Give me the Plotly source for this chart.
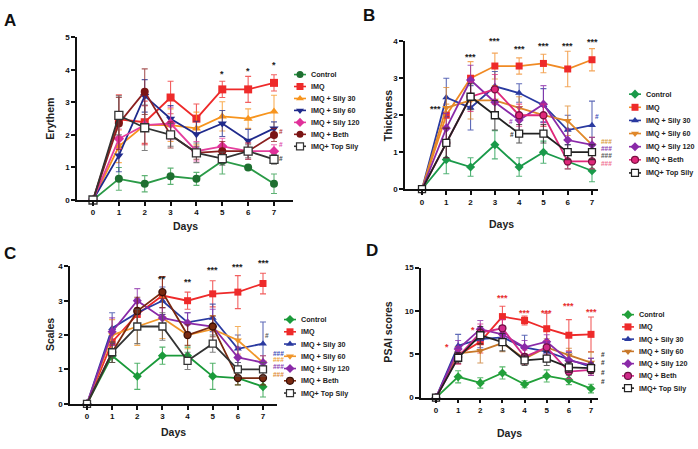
import plotly.graph_objects as go

W, H = 698, 449
FONT = "Liberation Sans, Arial, sans-serif"

days = [0, 1, 2, 3, 4, 5, 6, 7]
names = ["Control", "IMQ", "IMQ + Sily 30", "IMQ + Sily 60", "IMQ + Sily 120", "IMQ + Beth", "IMQ+ Top Sily"]

# ---------------- Panel A : Erythem ----------------
A_control = [0, 0.65, 0.5, 0.73, 0.65, 1.2, 1.0, 0.5]
A_control_err = [0, 0.35, 0.25, 0.25, 0.2, 0.4, 0.05, 0.3]
A_imq = [0, 2.48, 2.39, 3.15, 2.5, 3.4, 3.4, 3.6]
A_imq_err = [0, 0.75, 0.65, 0.5, 0.45, 0.25, 0.4, 0.25]
A_s30 = [0, 1.65, 2.3, 2.3, 2.2, 2.57, 2.5, 2.72]
A_s30_err = [0, 0.5, 0.6, 0.5, 0.5, 0.45, 0.3, 0.5]
A_s60 = [0, 1.37, 3.2, 2.5, 2.02, 2.35, 1.82, 2.2]
A_s60_err = [0, 0.5, 0.5, 0.4, 0.4, 0.4, 0.35, 0.2]
A_s120 = [0, 1.88, 2.3, 2.35, 1.5, 1.65, 1.5, 1.5]
A_s120_err = [0, 0.3, 0.6, 0.5, 0.3, 0.25, 0.25, 0.2]
A_beth = [0, 2.35, 3.33, 2.0, 1.45, 1.5, 1.5, 2.0]
A_beth_err = [0, 0.8, 0.7, 0.4, 0.2, 0.3, 0.25, 0.2]
A_top = [0, 2.6, 2.22, 2.0, 1.45, 1.27, 1.5, 1.25]
A_top_err = [0, 0.6, 0.7, 0.35, 0.3, 0.2, 0.2, 0.15]
A_ticks = [0, 1, 2, 3, 4, 5]

# ---------------- Panel B : Thickness ----------------
B_control = [0, 0.8, 0.6, 1.2, 0.6, 1.0, 0.75, 0.5]
B_control_err = [0, 0.38, 0.25, 0.38, 0.25, 0.3, 0.2, 0.3]
B_imq = [0, 2.0, 3.0, 3.33, 3.33, 3.4, 3.25, 3.5]
B_imq_err = [0, 0.3, 0.45, 0.35, 0.22, 0.25, 0.48, 0.3]
B_s30 = [0, 2.48, 2.2, 2.78, 2.6, 2.27, 1.6, 1.73]
B_s30_err = [0, 0.52, 0.6, 0.4, 0.25, 0.45, 0.4, 0.65]
B_s60 = [0, 2.2, 2.4, 2.4, 2.2, 2.0, 1.85, 1.2]
B_s60_err = [0, 0.55, 0.5, 0.4, 0.3, 0.3, 0.4, 0.2]
B_s120 = [0, 1.65, 2.95, 2.35, 1.87, 2.3, 1.33, 1.2]
B_s120_err = [0, 0.4, 0.4, 0.4, 0.35, 0.5, 0.3, 0.2]
B_beth = [0, 1.25, 2.5, 2.7, 2.0, 2.0, 0.75, 0.75]
B_beth_err = [0, 0.4, 0.4, 0.4, 0.3, 0.3, 0.2, 0.2]
B_top = [0, 1.25, 2.5, 2.0, 1.5, 1.5, 1.0, 1.0]
B_top_err = [0, 0.4, 0.35, 0.4, 0.25, 0.25, 0.2, 0.2]
B_ticks = [0, 1, 2, 3, 4]

# ---------------- Panel C : Scales ----------------
C_control = [0, 1.4, 0.8, 1.4, 1.4, 0.8, 0.75, 0.5]
C_control_err = [0, 0.2, 0.38, 0.25, 0.25, 0.38, 0.2, 0.3]
C_imq = [0, 1.8, 2.6, 3.15, 3.0, 3.2, 3.25, 3.5]
C_imq_err = [0, 0.3, 0.4, 0.55, 0.25, 0.38, 0.48, 0.3]
C_s30 = [0, 2.2, 2.65, 3.0, 2.37, 2.5, 1.6, 1.75]
C_s30_err = [0, 0.45, 0.4, 0.4, 0.28, 0.4, 0.4, 0.63]
C_s60 = [0, 2.0, 2.25, 2.5, 2.0, 2.17, 1.85, 1.2]
C_s60_err = [0, 0.45, 0.55, 0.6, 0.4, 0.4, 0.4, 0.2]
C_s120 = [0, 2.1, 3.0, 2.5, 2.35, 2.25, 1.35, 1.2]
C_s120_err = [0, 0.4, 0.35, 0.3, 0.3, 0.5, 0.3, 0.2]
C_beth = [0, 1.5, 2.7, 3.25, 2.0, 2.25, 0.75, 0.75]
C_beth_err = [0, 0.3, 0.4, 0.45, 0.3, 0.3, 0.2, 0.2]
C_top = [0, 1.5, 2.25, 2.25, 1.25, 1.75, 1.0, 1.0]
C_top_err = [0, 0.3, 0.5, 0.4, 0.25, 0.25, 0.2, 0.2]
C_ticks = [0, 1, 2, 3, 4]

# ---------------- Panel D : PSAI scores ----------------
D_control = [0, 2.4, 1.7, 2.85, 1.55, 2.5, 2.05, 1.05]
D_control_err = [0, 0.7, 0.6, 0.7, 0.4, 0.7, 0.55, 0.5]
D_imq = [0, 4.9, 6.45, 9.35, 8.9, 7.95, 7.2, 7.3]
D_imq_err = [0, 1.0, 1.3, 1.2, 0.5, 1.8, 1.8, 2.0]
D_s30 = [0, 6.0, 6.75, 6.95, 5.8, 5.3, 4.4, 3.55]
D_s30_err = [0, 1.3, 1.0, 0.9, 1.4, 1.0, 0.8, 1.0]
D_s60 = [0, 5.1, 5.4, 6.3, 4.5, 5.8, 4.9, 4.05]
D_s60_err = [0, 0.8, 1.4, 1.0, 0.6, 1.0, 0.8, 1.2]
D_s120 = [0, 5.6, 7.9, 7.3, 5.8, 6.45, 4.3, 3.75]
D_s120_err = [0, 1.0, 1.0, 1.0, 0.8, 0.8, 1.0, 0.8]
D_beth = [0, 4.7, 7.5, 8.0, 4.7, 5.8, 3.0, 3.2]
D_beth_err = [0, 0.8, 1.0, 1.0, 0.8, 0.8, 0.8, 0.6]
D_top = [0, 4.6, 7.2, 6.4, 4.3, 4.5, 3.5, 3.4]
D_top_err = [0, 0.6, 1.0, 1.0, 0.6, 0.8, 0.6, 0.6]
D_ticks = [0, 5, 10, 15]

# significance labels: (day, value, text, colour)
A_sig = [(5, 3.88, "*", "#222"), (6, 3.95, "*", "#222"), (7, 4.15, "*", "#222"),
         (7.28, 2.12, "#", "#b8342a"), (7.28, 1.72, "#", "#e04aa8"), (7.28, 1.28, "#", "#444")]
B_sig = [(0.55, 2.17, "***", "#222"), (2, 3.57, "***", "#222"), (3, 4.0, "***", "#222"),
         (4, 3.78, "***", "#222"), (5, 3.88, "***", "#222"), (6, 3.88, "***", "#222"),
         (7, 3.98, "***", "#222"), (7.2, 1.97, "#", "#3a4ab8"),
         (7.6, 1.3, "###", "#d99a3a"), (7.6, 1.1, "###", "#8a3ab0"),
         (7.6, 0.9, "###", "#555"), (7.6, 0.7, "###", "#f07090"),
         (3.68, 1.84, "#", "#9a3ab0"), (3.72, 1.47, "#", "#333")]
C_sig = [(3, 3.62, "**", "#222"), (4, 3.55, "**", "#222"), (5, 3.9, "***", "#222"),
         (6, 3.97, "***", "#222"), (7, 4.1, "***", "#222"), (7.15, 2.0, "#", "#555"),
         (7.6, 1.45, "###", "#3a4ab8"), (7.6, 1.29, "###", "#f0a030"),
         (7.6, 1.08, "###", "#8a3ab0"), (7.6, 0.85, "###", "#e08a30")]
D_sig = [(0.48, 5.8, "*", "#e83030"), (1.65, 7.8, "*", "#e83030"),
         (3, 11.5, "***", "#e83030"), (4, 9.8, "***", "#e83030"), (5, 9.8, "***", "#e83030"),
         (6, 10.6, "***", "#e83030"), (7, 9.9, "***", "#e83030"),
         (7.55, 4.95, "#", "#333"), (7.55, 4.0, "#", "#333"), (7.55, 2.95, "#", "#333"),
         (7.55, 1.9, "#", "#333")]

# styles per panel: (line colour, marker colour, symbol, marker line colour)
A_style = [("#2a9a47", "#1e6f30", "circle", None), ("#ee2a2a", "#ee2a2a", "square", None),
           ("#f7941d", "#f7941d", "triangle-up", None), ("#1f2a8c", "#1f2a8c", "triangle-down", None),
           ("#e4409e", "#e0309a", "diamond", None), ("#8b2020", "#7a1414", "circle", None),
           ("#333333", "white", "square", "#333333")]
B_style = [("#1a9a4a", "#1a9a4a", "diamond", None), ("#f08a24", "#ee2a2a", "square", None),
           ("#2a3aa0", "#2a3aa0", "triangle-up", None), ("#e0882a", "#e0882a", "triangle-down", None),
           ("#8a2aa8", "#8a2aa8", "diamond", None), ("#e0287a", "#e0287a", "circle", "#7a1040"),
           ("#222222", "white", "square", "#222222")]
C_style = [("#1a9a3a", "#1a9a3a", "diamond", None), ("#ee2a2a", "#ee2a2a", "square", None),
           ("#2a3aa0", "#2a3aa0", "triangle-up", None), ("#f0962a", "#f0962a", "triangle-down", None),
           ("#8a2aa8", "#8a2aa8", "diamond", None), ("#7a2a10", "#7a2a10", "circle", "#3a1008"),
           ("#333333", "white", "square", "#333333")]
D_style = [("#22a03a", "#22a03a", "diamond", None), ("#ee2a2a", "#ee2a2a", "square", None),
           ("#2a3aa0", "#2a3aa0", "triangle-up", None), ("#c8782a", "#c8782a", "triangle-down", None),
           ("#8a2aa8", "#8a2aa8", "diamond", None), ("#d02a8a", "#d02a8a", "circle", "#6a1040"),
           ("#222222", "white", "square", "#222222")]

panels = [
    dict(key="A", ytitle="Erythem", ticks=A_ticks,
         series=[A_control, A_imq, A_s30, A_s60, A_s120, A_beth, A_top],
         errs=[A_control_err, A_imq_err, A_s30_err, A_s60_err, A_s120_err, A_beth_err, A_top_err],
         style=A_style, sig=A_sig, msize=8,
         xl=77, xr=293, d0=93, d7=274, yb=200, yt=34,
         leg=(300, 72, 12.2), letter=(10, 17), ytx=50, xty=227),
    dict(key="B", ytitle="Thickness", ticks=B_ticks,
         series=[B_control, B_imq, B_s30, B_s60, B_s120, B_beth, B_top],
         errs=[B_control_err, B_imq_err, B_s30_err, B_s60_err, B_s120_err, B_beth_err, B_top_err],
         style=B_style, sig=B_sig, msize=7,
         xl=405, xr=598, d0=422, d7=592, yb=189, yt=38,
         leg=(635, 92, 13.4), letter=(369, 12), ytx=388, xty=225),
    dict(key="C", ytitle="Scales", ticks=C_ticks,
         series=[C_control, C_imq, C_s30, C_s60, C_s120, C_beth, C_top],
         errs=[C_control_err, C_imq_err, C_s30_err, C_s60_err, C_s120_err, C_beth_err, C_top_err],
         style=C_style, sig=C_sig, msize=7,
         xl=70, xr=277, d0=87, d7=263, yb=408, yt=267.7,
         leg=(290, 322, 12.5), letter=(10, 255), ytx=50, xty=437),
    dict(key="D", ytitle="PSAI scores", ticks=D_ticks,
         series=[D_control, D_imq, D_s30, D_s60, D_s120, D_beth, D_top],
         errs=[D_control_err, D_imq_err, D_s30_err, D_s60_err, D_s120_err, D_beth_err, D_top_err],
         style=D_style, sig=D_sig, msize=7,
         xl=421, xr=598, d0=436, d7=591, yb=401.7, yt=269,
         leg=(628, 317, 12.5), letter=(372, 252), ytx=388, xty=438),
]

fig = go.Figure()
layout = dict(width=W, height=H, margin=dict(l=0, r=0, t=0, b=0),
              paper_bgcolor="white", plot_bgcolor="rgba(0,0,0,0)", showlegend=False,
              font=dict(family=FONT, color="#222"))
annotations = []

def hexa(c, a):
    c = c.lstrip("#")
    r, g, b = int(c[0:2], 16), int(c[2:4], 16), int(c[4:6], 16)
    return f"rgba({r},{g},{b},{a})"

for i, p in enumerate(panels, start=1):
    xa = "xaxis" if i == 1 else f"xaxis{i}"
    ya = "yaxis" if i == 1 else f"yaxis{i}"
    xr_ = "x" if i == 1 else f"x{i}"
    yr_ = "y" if i == 1 else f"y{i}"
    per_day = (p["d7"] - p["d0"]) / 7.0
    x_range = [(p["xl"] - p["d0"]) / per_day, (p["xr"] - p["d0"]) / per_day]
    ymax = p["ticks"][-1]
    y_range = [0, ymax]
    axis_common = dict(showgrid=False, zeroline=False, showline=True, linecolor="#111",
                       linewidth=1.6, ticks="outside", ticklen=4, tickwidth=1.5,
                       tickcolor="#111", tickfont=dict(size=8, family=FONT, color="#111", weight="bold"))
    layout[xa] = dict(domain=[p["xl"] / W, p["xr"] / W], range=x_range, anchor=yr_,
                      tickvals=days, **axis_common)
    layout[ya] = dict(domain=[1 - p["yb"] / H, 1 - p["yt"] / H], range=y_range, anchor=xr_,
                      tickvals=p["ticks"], **axis_common)

    for name, ys, es, st in zip(names, p["series"], p["errs"], p["style"]):
        lc, mc, sym, mlc = st
        fig.add_trace(go.Scatter(
            x=days, y=ys, xaxis=xr_, yaxis=yr_, name=name, mode="lines+markers",
            line=dict(color=lc, width=1.8),
            marker=dict(color=mc, symbol=sym, size=p["msize"],
                        line=dict(color=mlc if mlc else mc, width=1.3 if mlc else 0)),
            error_y=dict(type="data", array=es, color=hexa(lc if lc != "#333333" else "#555555", 0.75),
                         thickness=1.1, width=3),
            cliponaxis=False))

    # significance marks: annotations in axis-domain coordinates so they are never hidden
    for (sx, sy, txt, col) in p["sig"]:
        annotations.append(dict(
            x=(sx - x_range[0]) / (x_range[1] - x_range[0]),
            y=(sy - y_range[0]) / (y_range[1] - y_range[0]),
            xref=f"{xr_} domain", yref=f"{yr_} domain", text=txt, showarrow=False,
            font=dict(size=6.5 if "#" in txt else 9, color=col, family=FONT, weight="bold"),
            xanchor="center", yanchor="middle"))

    # axis titles
    annotations.append(dict(x=p["ytx"] / W, y=1 - (p["yb"] + p["yt"]) / 2 / H, xref="paper", yref="paper",
                            text=p["ytitle"], textangle=-90, showarrow=False,
                            font=dict(size=10.5, family=FONT, color="#222", weight="bold"),
                            xanchor="center", yanchor="middle"))
    annotations.append(dict(x=(p["xl"] + p["xr"]) / 2 / W, y=1 - p["xty"] / H, xref="paper", yref="paper",
                            text="Days", showarrow=False,
                            font=dict(size=10.5, family=FONT, color="#222", weight="bold"),
                            xanchor="center", yanchor="middle"))
    # panel letter
    annotations.append(dict(x=p["letter"][0] / W, y=1 - p["letter"][1] / H, xref="paper", yref="paper",
                            text=p["key"], showarrow=False,
                            font=dict(size=17, family=FONT, color="#111", weight="bold"),
                            xanchor="center", yanchor="middle"))

# ---------- manual legends on a full-figure pixel overlay axis ----------
layout["xaxis5"] = dict(domain=[0, 1], range=[0, W], visible=False, fixedrange=True, anchor="y5")
layout["yaxis5"] = dict(domain=[0, 1], range=[H, 0], visible=False, fixedrange=True, anchor="x5")
for p in panels:
    mx, y0, dy = p["leg"]
    for k, (name, st) in enumerate(zip(names, p["style"])):
        lc, mc, sym, mlc = st
        yy = y0 + k * dy
        fig.add_trace(go.Scatter(x=[mx - 6, mx, mx + 6], y=[yy, yy, yy], xaxis="x5", yaxis="y5",
                                 mode="lines", line=dict(color=lc, width=1.6), hoverinfo="skip",
                                 showlegend=False))
        fig.add_trace(go.Scatter(x=[mx], y=[yy], xaxis="x5", yaxis="y5", mode="markers",
                                 marker=dict(color=mc, symbol=sym, size=7,
                                             line=dict(color=mlc if mlc else mc, width=1.2 if mlc else 0)),
                                 hoverinfo="skip", showlegend=False))
        annotations.append(dict(x=mx + 9, y=yy, xref="x5", yref="y5", text=name, showarrow=False,
                                xanchor="left", yanchor="middle",
                                font=dict(size=7.2, family=FONT, color="#222", weight="bold")))

layout["annotations"] = annotations
fig.update_layout(**layout)
fig.write_html("out.html")
